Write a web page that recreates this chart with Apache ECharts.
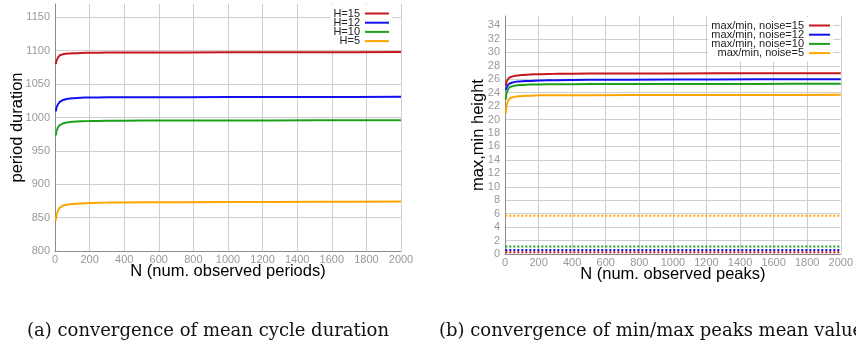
<!DOCTYPE html>
<html>
<head>
<meta charset="utf-8">
<script src="https://cdn.jsdelivr.net/npm/echarts@6/dist/echarts.min.js"></script>
<style>
  html, body { margin: 0; padding: 0; background: #fff; }
  #chart { width: 856px; height: 349px; }
</style>
</head>
<body>
<div id="chart"></div>
<script>
// N values where the running means were sampled
const nSteps = [5, 10, 20, 30, 50, 75, 100, 150, 200, 300, 500, 1000, 1500, 2000];

// (a) mean cycle duration
const periodNames = ['H=15', 'H=12', 'H=10', 'H=5'];
const periodH15 = [1080, 1086, 1091, 1093.5, 1095, 1095.8, 1096.2, 1096.6, 1097, 1097.2, 1097.4, 1097.6, 1097.8, 1098];
const periodH12 = [1009, 1016, 1021, 1024, 1026.5, 1028, 1029, 1029.6, 1030, 1030.2, 1030.4, 1030.6, 1030.8, 1031];
const periodH10 = [973, 981, 986.5, 989, 991.5, 992.8, 993.5, 994.3, 994.8, 995, 995.3, 995.5, 995.8, 996];
const periodH5 = [846, 855, 862, 865.5, 868.5, 869.5, 870.3, 871.3, 872, 872.5, 873, 873.4, 873.7, 874];

// (b) mean of max peaks (solid) and min peaks (dotted)
const peakNames = ['max/min, noise=15', 'max/min, noise=12', 'max/min, noise=10', 'max/min, noise=5'];
const maxNoise15 = [25.0, 25.7, 26.1, 26.3, 26.45, 26.55, 26.62, 26.7, 26.75, 26.8, 26.83, 26.86, 26.88, 26.9];
const maxNoise12 = [24.4, 24.8, 25.2, 25.4, 25.55, 25.65, 25.7, 25.75, 25.8, 25.85, 25.9, 25.95, 25.98, 26.0];
const maxNoise10 = [23.0, 24.0, 24.6, 24.85, 25.0, 25.1, 25.15, 25.2, 25.22, 25.25, 25.28, 25.3, 25.3, 25.32];
const maxNoise5 = [20.9, 22.2, 22.9, 23.2, 23.35, 23.45, 23.5, 23.55, 23.6, 23.62, 23.63, 23.65, 23.66, 23.68];
const minSteps = [2, 2000];
const minNoise15 = [0.25, 0.25];
const minNoise12 = [0.6, 0.6];
const minNoise10 = [1.1, 1.1];
const minNoise5 = [5.7, 5.7];

const lineColors = ['#c4161c', '#1010f0', '#1ca01c', '#ffa500'];

function pairs(xs, ys) {
  return xs.map((x, i) => [x, ys[i]]);
}

const chart = echarts.init(document.getElementById('chart'));

const sans = 'Liberation Sans';
const serif = 'DejaVu Serif';

function xAxisOf(grid, name) {
  return {
    type: 'value', gridIndex: grid, min: 0, max: 2000, interval: 200,
    name: name, nameLocation: 'middle', nameGap: 12, nameMoveOverlap: false,
    nameTextStyle: { fontSize: 16.5, color: '#000', fontFamily: sans },
    axisLine: { show: true, onZero: false, lineStyle: { color: '#8c8c8c', width: 1 } },
    axisTick: { show: false },
    axisLabel: { color: '#999', fontSize: 11, margin: 3, fontFamily: sans, formatter: v => String(v) },
    splitLine: { show: true, lineStyle: { color: '#cfcfcf', width: 1 } }
  };
}

function yAxisOf(grid, name, min, max, step, gap) {
  return {
    type: 'value', gridIndex: grid, min: min, max: max, interval: step,
    name: name, nameLocation: 'middle', nameGap: gap, nameMoveOverlap: false,
    nameTextStyle: { fontSize: 16.5, color: '#000', fontFamily: sans },
    axisLine: { show: true, lineStyle: { color: '#8c8c8c', width: 1 } },
    axisTick: { show: false },
    axisLabel: { color: '#999', fontSize: 11, margin: 5, fontFamily: sans, showMaxLabel: false, formatter: v => String(v) },
    splitLine: { show: true, showMaxLine: false, lineStyle: { color: '#cfcfcf', width: 1 } }
  };
}

function legendOf(names, right, top, w) {
  return {
    data: names, orient: 'vertical', align: 'right',
    right: right, top: top, icon: 'rect', itemWidth: w, itemHeight: 2, itemGap: -1.8,
    padding: 3, backgroundColor: '#fff', selectedMode: false,
    textStyle: { fontSize: 11, lineHeight: 9.4, color: '#222', fontFamily: sans }
  };
}

function solid(name, grid, xs, ys, color) {
  return {
    name: name, type: 'line', xAxisIndex: grid, yAxisIndex: grid,
    data: pairs(xs, ys), symbol: 'none', smooth: 0.3, smoothMonotone: 'x',
    lineStyle: { color: color, width: 2 }, itemStyle: { color: color }
  };
}

function dotted(name, grid, xs, ys, color) {
  return {
    name: name, type: 'line', xAxisIndex: grid, yAxisIndex: grid,
    data: pairs(xs, ys), symbol: 'none',
    lineStyle: { color: color, width: 2, type: [2, 2] }, itemStyle: { color: color }
  };
}

const periodSeries = [periodH15, periodH12, periodH10, periodH5];
const maxSeries = [maxNoise15, maxNoise12, maxNoise10, maxNoise5];
const minSeries = [minNoise15, minNoise12, minNoise10, minNoise5];

const series = [];
periodNames.forEach((n, i) => series.push(solid(n, 0, nSteps, periodSeries[i], lineColors[i])));
peakNames.forEach((n, i) => series.push(solid(n, 1, nSteps, maxSeries[i], lineColors[i])));
peakNames.forEach((n, i) => series.push(dotted('min ' + n, 1, minSteps, minSeries[i], lineColors[i])));

chart.setOption({
  animation: false,
  backgroundColor: '#fff',
  grid: [
    { left: 55, top: 4, width: 346, height: 247 },
    { left: 505, top: 16, width: 337, height: 238 }
  ],
  xAxis: [
    xAxisOf(0, 'N (num. observed periods)'),
    xAxisOf(1, 'N (num. observed peaks)')
  ],
  yAxis: [
    yAxisOf(0, 'period duration', 800, 1170, 50, 29),
    yAxisOf(1, 'max,min height', 0, 35.4, 2, 18.5)
  ],
  legend: [
    legendOf(periodNames, 464, 5, 24),
    legendOf(peakNames, 23, 17, 21)
  ],
  series: series,
  graphic: [
    { type: 'text', left: 27, top: 322,
      style: { text: '(a) convergence of mean cycle duration', fontSize: 18, fontFamily: serif, fill: '#111' } },
    { type: 'text', left: 439, top: 322,
      style: { text: '(b) convergence of min/max peaks mean values', fontSize: 18, fontFamily: serif, fill: '#111' } }
  ]
});
</script>
</body>
</html>
